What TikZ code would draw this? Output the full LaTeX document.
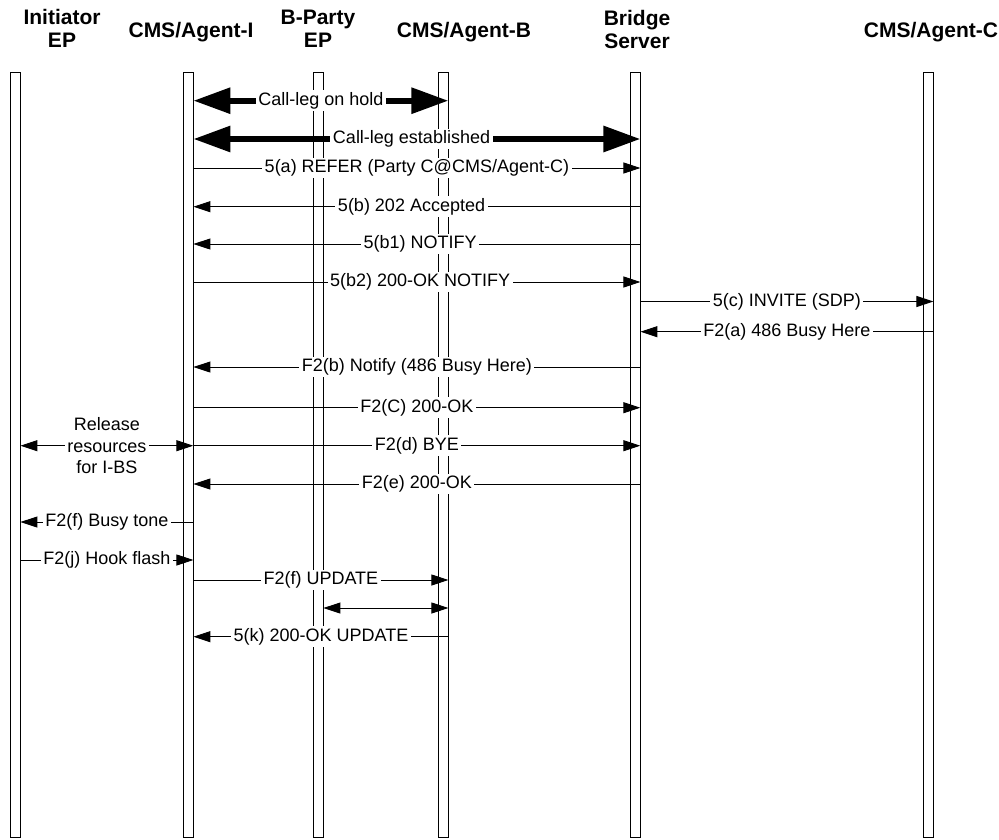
\documentclass[tikz,border=0pt]{standalone}
\usepackage{fontspec}
\setmainfont{Liberation Sans}
\usetikzlibrary{arrows.meta}
\tikzset{
  lifeline/.style={draw=black, fill=white, line width=0.8pt, rectangle, inner sep=0pt, minimum width=10pt, minimum height=765pt},
  hdr/.style={font=\fontsize{21}{23.4}\selectfont\bfseries, align=center, inner sep=0pt},
  lbl/.style={fill=white, inner xsep=2.5pt, inner ysep=2pt, font=\fontsize{18}{21.7}\selectfont, align=center},
  msg/.style={line width=0.9pt, -{Triangle[length=17pt,width=11pt]}},
  msgboth/.style={line width=0.9pt, {Triangle[length=17pt,width=11pt]}-{Triangle[length=17pt,width=11pt]}},
  thick2/.style={line width=6pt, {Triangle[length=37pt,width=25pt]}-{Triangle[length=37pt,width=25pt]}}
}
\newcommand\mymsg[6][0.5]{\draw[#6] (#2.east |- 0,#4) -- node[lbl,pos=#1]{#5} (#3.east |- 0,#4);}
\begin{document}
\begin{tikzpicture}[x=1pt,y=-1pt]
\useasboundingbox[fill=white] (0,0) rectangle (999,839);
% headers
\node[hdr] (hI) at (62,28.5) {Initiator\\EP};
\node[hdr, anchor=base] (hAI) at (191,37.7) {CMS/Agent-I};
\node[hdr] (hBP) at (318,28.5) {B-Party\\EP};
\node[hdr, anchor=base] (hAB) at (464,37.7) {CMS/Agent-B};
\node[hdr] (hBS) at (637,29.5) {Bridge\\Server};
\node[hdr, anchor=base] (hAC) at (931,37.7) {CMS/Agent-C};
% lifelines
\node[lifeline] (I)  at (15,454.5) {};
\node[lifeline] (AI) at (188,454.5) {};
\node[lifeline] (BP) at (318,454.5) {};
\node[lifeline] (AB) at (443,454.5) {};
\node[lifeline] (BS) at (635,454.5) {};
\node[lifeline] (AC) at (928,454.5) {};
% messages
\mymsg{AI}{AB}{100.7}{Call-leg on hold}{thick2}
\mymsg[0.488]{AI}{BS}{139}{Call-leg established}{thick2}
\mymsg{AI}{BS}{168}{5(a) REFER (Party C@CMS/Agent-C)}{msg}
\mymsg[0.512]{BS}{AI}{206.7}{5(b) 202 Accepted}{msg}
\mymsg[0.493]{BS}{AI}{244}{5(b1) NOTIFY}{msg}
\mymsg[0.507]{AI}{BS}{282}{5(b2) 200-OK NOTIFY}{msg}
\mymsg{BS}{AC}{301.5}{5(c) INVITE (SDP)}{msg}
\mymsg{AC}{BS}{331.7}{F2(a) 486 Busy Here}{msg}
\mymsg{BS}{AI}{367}{F2(b) Notify (486 Busy Here)}{msg}
\mymsg{AI}{BS}{407.7}{F2(C) 200-OK}{msg}
\mymsg{AI}{BS}{445.7}{F2(d) BYE}{msg}
\mymsg{I}{AI}{445.7}{Release\\resources\\for I-BS}{msgboth}
\mymsg{BS}{AI}{484}{F2(e) 200-OK}{msg}
\mymsg{AI}{I}{522}{F2(f) Busy tone}{msg}
\mymsg{I}{AI}{560}{F2(j) Hook flash}{msg}
\mymsg{AI}{AB}{580}{F2(f) UPDATE}{msg}
\draw[msgboth] (BP.east |- 0,608) -- (AB.east |- 0,608);
\mymsg{AB}{AI}{636.7}{5(k) 200-OK UPDATE}{msg}
\end{tikzpicture}
\end{document}
